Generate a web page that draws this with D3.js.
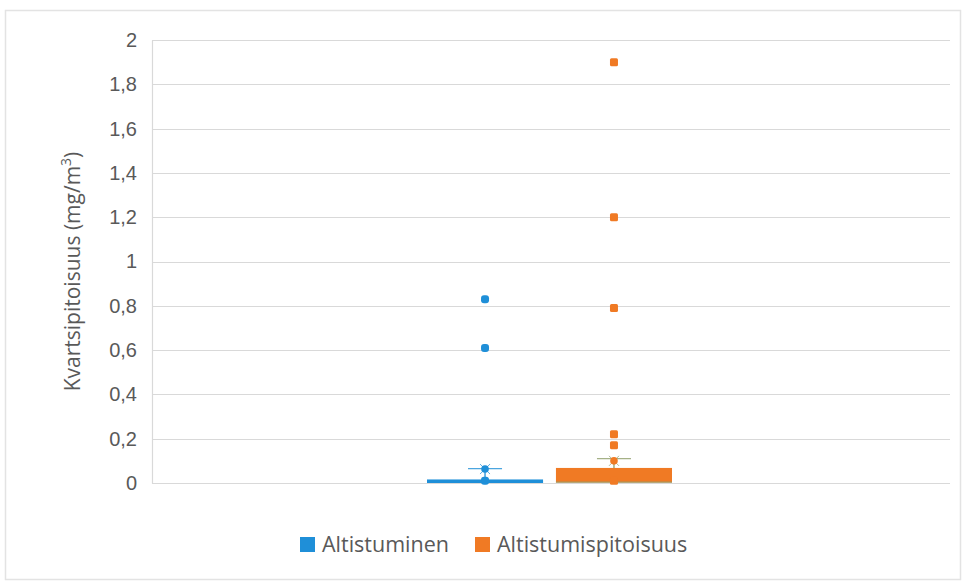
<!DOCTYPE html>
<html>
<head>
<meta charset="utf-8">
<script src="https://cdn.jsdelivr.net/npm/d3@7"></script>
<style>
  html, body { margin: 0; padding: 0; background: #fff; }
  svg { display: block; font-family: "Open Sans", "Liberation Sans", sans-serif; }
</style>
</head>
<body>
<svg id="chart" width="963" height="583"></svg>
<script>
// Box-and-whisker summary per series (mg/m³)
const seriesNames = ["Altistuminen", "Altistumispitoisuus"];
const seriesColors = ["#1f8fd8", "#f07a24"];
const q1 = [0.0, 0.002];
const median = [0.005, 0.004];
const q3 = [0.016, 0.068];
const whiskerHigh = [0.065, 0.11];
const mean = [0.063, 0.10];
const innerPoints = [[0.01], [0.01]];
const outliers = [[0.61, 0.83], [0.17, 0.22, 0.79, 1.2, 1.9]];
const yTicks = [0, 0.2, 0.4, 0.6, 0.8, 1, 1.2, 1.4, 1.6, 1.8, 2];

const svg = d3.select("#chart");
const W = 963, H = 583;
const plot = { left: 152, right: 950, top: 40, bottom: 483 };

// chart area border
svg.append("rect")
  .attr("x", 5.5).attr("y", 10.5).attr("width", W - 8).attr("height", H - 14)
  .attr("fill", "#fff").attr("stroke", "#e3e3e3").attr("stroke-width", 1.5);

const y = d3.scaleLinear().domain([0, 2]).range([plot.bottom, plot.top]);

// single category slot, with the two series side by side
const x = d3.scaleBand().domain(seriesNames).range([427, 672]).paddingInner(0.1);

// gridlines
svg.append("g").selectAll("line").data(yTicks).join("line")
  .attr("x1", plot.left).attr("x2", plot.right)
  .attr("y1", d => Math.round(y(d)) + 0.5).attr("y2", d => Math.round(y(d)) + 0.5)
  .attr("stroke", "#d9d9d9").attr("stroke-width", 1.2);

// value axis
const yAxis = d3.axisLeft(y).tickValues(yTicks).tickSize(0).tickPadding(15)
  .tickFormat(d => d3.format("")(d).replace(".", ","));
const ga = svg.append("g").attr("transform", `translate(${plot.left},0)`).call(yAxis);
ga.select(".domain").attr("stroke", "#d9d9d9").attr("stroke-width", 1.2);
ga.selectAll("text").attr("fill", "#595959").attr("font-size", 20);

const title = svg.append("text")
  .attr("transform", `translate(80,${(plot.top + plot.bottom) / 2 + 10}) rotate(-90)`)
  .attr("text-anchor", "middle").attr("fill", "#595959").attr("font-size", 21);
title.append("tspan").text("Kvartsipitoisuus (mg/m");
title.append("tspan").attr("baseline-shift", "super").attr("font-size", 14).text("3");
title.append("tspan").text(")");

const whiskerColors = ["#1f8fd8", "#8f9e6a"];

seriesNames.forEach((name, i) => {
  const g = svg.append("g");
  const x0 = x(name), bw = x.bandwidth(), cx = x0 + bw / 2;
  const col = seriesColors[i];

  // whisker and cap
  g.append("line").attr("x1", cx).attr("x2", cx)
    .attr("y1", y(q3[i])).attr("y2", y(whiskerHigh[i]))
    .attr("stroke", whiskerColors[i]).attr("stroke-width", 1.3);
  g.append("line").attr("x1", cx - 17).attr("x2", cx + 17)
    .attr("y1", y(whiskerHigh[i])).attr("y2", y(whiskerHigh[i]))
    .attr("stroke", whiskerColors[i]).attr("stroke-width", 1.2).attr("opacity", 0.8);

  // box
  g.append("rect").attr("x", x0).attr("width", bw)
    .attr("y", y(q3[i])).attr("height", Math.max(3, y(q1[i]) - y(q3[i])))
    .attr("fill", col);
  g.append("line").attr("x1", x0).attr("x2", x0 + bw)
    .attr("y1", y(median[i])).attr("y2", y(median[i]))
    .attr("stroke", whiskerColors[i]).attr("stroke-width", 1);

  // mean marker
  const my = y(mean[i]);
  g.append("path")
    .attr("d", `M${cx - 5},${my - 5}L${cx + 5},${my + 5}M${cx - 5},${my + 5}L${cx + 5},${my - 5}`)
    .attr("stroke", whiskerColors[i]).attr("stroke-width", 1).attr("opacity", 0.7);
  g.append("circle").attr("cx", cx).attr("cy", my).attr("r", 3.8).attr("fill", col);

  // inner points and outliers
  g.selectAll(".pt").data(innerPoints[i].concat(outliers[i])).join("rect")
    .attr("x", cx - 4).attr("y", d => y(d) - 4)
    .attr("width", 8).attr("height", 8)
    .attr("rx", i === 0 ? 3 : 1.5)
    .attr("fill", col);
});

// legend
const legend = svg.append("g").attr("transform", "translate(300,537)");
const items = [{ name: seriesNames[0], dx: 0 }, { name: seriesNames[1], dx: 175 }];
items.forEach((it, i) => {
  legend.append("rect").attr("x", it.dx).attr("y", 0).attr("width", 15).attr("height", 15)
    .attr("fill", seriesColors[i]);
  legend.append("text").attr("x", it.dx + 22).attr("y", 15)
    .attr("fill", "#595959").attr("font-size", 21.5).text(it.name);
});
</script>
</body>
</html>
